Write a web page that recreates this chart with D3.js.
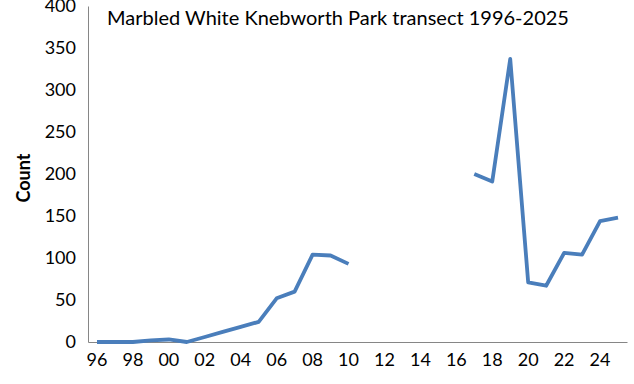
<!DOCTYPE html>
<html>
<head>
<meta charset="utf-8">
<script src="https://cdn.jsdelivr.net/npm/d3@7"></script>
<style>
  body { margin: 0; background: #fff; }
  text { font-family: Lato, 'Open Sans', sans-serif; }
</style>
</head>
<body>
<div id="chart"></div>
<script>
// data (null = no survey)
let years = d3.range(1996, 2026)
let counts = [
  0, 0, 0, 2, 3, 0, 6, 12, 18, 24,
  52, 60, 104, 103, 93,
  null, null, null, null, null, null,
  200, 191, 337, 71, 67, 106, 104, 144, 148
]
let yTicks = [0, 50, 100, 150, 200, 250, 300, 350, 400]
let xLabelYears = years.filter(y => y % 2 === 0)

let margin = { top: 6, left: 88, right: 7, bottom: 42 }
let width = 634 - margin.left - margin.right
let height = 384 - margin.top - margin.bottom

let svg = d3
  .select('#chart')
  .append('svg')
  .attr('width', 634)
  .attr('height', 384)
  .append('g')
  .attr('transform', 'translate(' + margin.left + ',' + margin.top + ')')

let xScale = d3.scaleBand().domain(years).range([0, width])
let yScale = d3.scaleLinear().domain([0, 400]).range([height, 0])

let data = years.map((y, i) => ({ year: y, count: counts[i] }))

// y axis
let yAxis = svg.append('g')
  .call(d3.axisLeft(yScale).tickValues(yTicks).tickSize(0).tickPadding(12))
yAxis.select('.domain').attr('stroke', '#868686')
yAxis.selectAll('text').attr('font-size', 18).attr('fill', '#000')

// x axis
let xAxis = svg.append('g')
  .attr('transform', `translate(0,${height})`)
  .call(d3.axisBottom(xScale)
    .tickValues(xLabelYears)
    .tickFormat(d => String(d).slice(2))
    .tickSize(0)
    .tickPadding(11))
xAxis.select('.domain').attr('stroke', '#868686')
xAxis.selectAll('text').attr('font-size', 18).attr('fill', '#000')

// line
let line = d3.line()
  .defined(d => d.count !== null)
  .x(d => xScale(d.year) + xScale.bandwidth() / 2)
  .y(d => yScale(d.count))

svg.append('path')
  .datum(data)
  .attr('d', line)
  .attr('fill', 'none')
  .attr('stroke', '#4a7ebb')
  .attr('stroke-width', 3.8)
  .attr('stroke-linejoin', 'round')

// title
svg.append('text')
  .attr('x', 19)
  .attr('y', 19)
  .attr('font-size', 20)
  .attr('fill', '#000')
  .text('Marbled White Knebworth Park transect 1996-2025')

// y label
svg.append('text')
  .attr('transform', `translate(${-58},${height / 2 + 4}) rotate(-90)`)
  .attr('text-anchor', 'middle')
  .attr('font-size', 18)
  .attr('font-weight', 'bold')
  .attr('fill', '#000')
  .text('Count')
</script>
</body>
</html>
